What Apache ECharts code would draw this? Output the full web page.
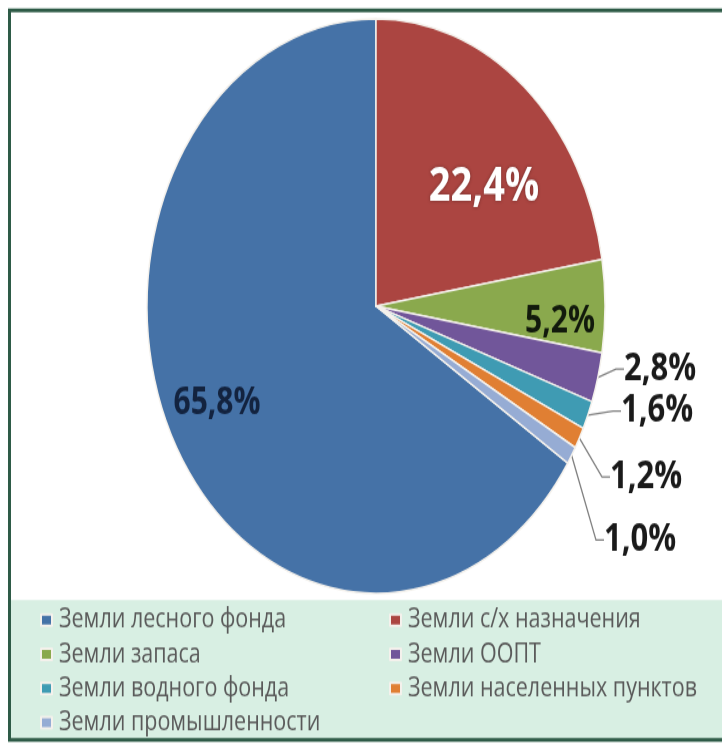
<!DOCTYPE html>
<html><head><meta charset="utf-8">
<script src="https://cdn.jsdelivr.net/npm/echarts@6/dist/echarts.min.js"></script>
<style>
html,body{margin:0;padding:0;background:#fff;overflow:hidden;}
#wrap{width:722px;height:744px;overflow:hidden;position:relative;background:#fff;}
#chart{width:722px;height:593px;transform:scaleY(1.25464);transform-origin:0 0;}
</style></head><body>
<div id="wrap"><div id="chart"></div></div>
<script>
// ---- data ----
const categories = ['Земли лесного фонда','Земли с/х назначения','Земли запаса','Земли ООПТ','Земли водного фонда','Земли населенных пунктов','Земли промышленности'];
const shares = [65.8, 22.4, 5.2, 2.8, 1.6, 1.2, 1.0];
const colors = ['#4572a7','#ab4541','#8aa94d','#71569a','#3f9bb3','#e07f33','#96acd4'];
// ---- layout (reference-picture pixels) ----
const S = 744 / 593;                  // vertical stretch of the picture
const labelSpots = [[217,403],[484,187],[560,322],[624,369],[621,411],[610,477],[604,540]];

const total = shares.reduce((a,b)=>a+b,0);
const startAngle = 90 - 360 * (total - shares[0]) / total;
const fmt = v => v.toFixed(1).replace('.', ',') + '%';

const seriesData = categories.map((name, i) => {
  const inside = shares[i] > 4;
  return {
    name, value: shares[i],
    itemStyle: { color: colors[i] },
    label: inside ? {
      position: 'inside',
      color: i === 1 ? '#ffffff' : (i === 0 ? '#13233f' : '#121a0c'),
      fontSize: i === 1 ? 38 : 30,
      textShadowColor: i === 1 ? 'rgba(0,0,0,0.35)' : 'transparent',
      textShadowBlur: i === 1 ? 3 : 0
    } : { position: 'outside' },
    labelLine: { show: !inside }
  };
});

const legendText = {fontFamily:'Open Sans', fontSize:21.5, color:'#5a5a5a', lineHeight:22, padding:[0,0,0,2]};
const chart = echarts.init(document.getElementById('chart'), null, {renderer:'canvas'});
chart.setOption({
  animation: false,
  backgroundColor: 'transparent',
  graphic: [
    { type:'rect', z:0, silent:true, shape:{x:10, y:600/S, width:712, height:140/S}, style:{fill:'#d8efe3'} },
    { type:'rect', z:1, silent:true, shape:{x:9.5, y:10.5/S, width:740, height:729.5/S}, style:{fill:'none', stroke:'#2e5b47', lineWidth:3} }
  ],
  legend: [
    { data:[categories[0],categories[2],categories[4],categories[6]], orient:'vertical', left:40, top:620/S-11, height:120, padding:0,
      itemWidth:11, itemHeight:9, itemGap:5.3, icon:'rect', textStyle:legendText },
    { data:[categories[1],categories[3],categories[5]], orient:'vertical', left:389, top:620/S-11, height:120, padding:0,
      itemWidth:11, itemHeight:9, itemGap:5.3, icon:'rect', textStyle:legendText }
  ],
  series: [{
    type:'pie',
    center:[376, 306/S],
    radius:229,
    startAngle: startAngle,
    clockwise: true,
    avoidLabelOverlap: false,
    itemStyle:{ borderColor:'#f4f1ec', borderWidth:1.5 },
    label:{ show:true, formatter: p => fmt(p.value), fontFamily:'Open Sans', fontWeight:'bold', fontSize:31, color:'#1a1a1a' },
    labelLine:{ length:10, length2:8, lineStyle:{ color:'#7f7f7f', width:1.3 } },
    labelLayout: function (params) {
      const i = params.dataIndex;
      const p = labelSpots[i];
      return { x: p[0], y: p[1] / S, align: shares[i] > 4 ? 'center' : 'left', verticalAlign: 'middle' };
    },
    emphasis:{ disabled:true },
    data: seriesData
  }]
});
</script>
</body></html>
